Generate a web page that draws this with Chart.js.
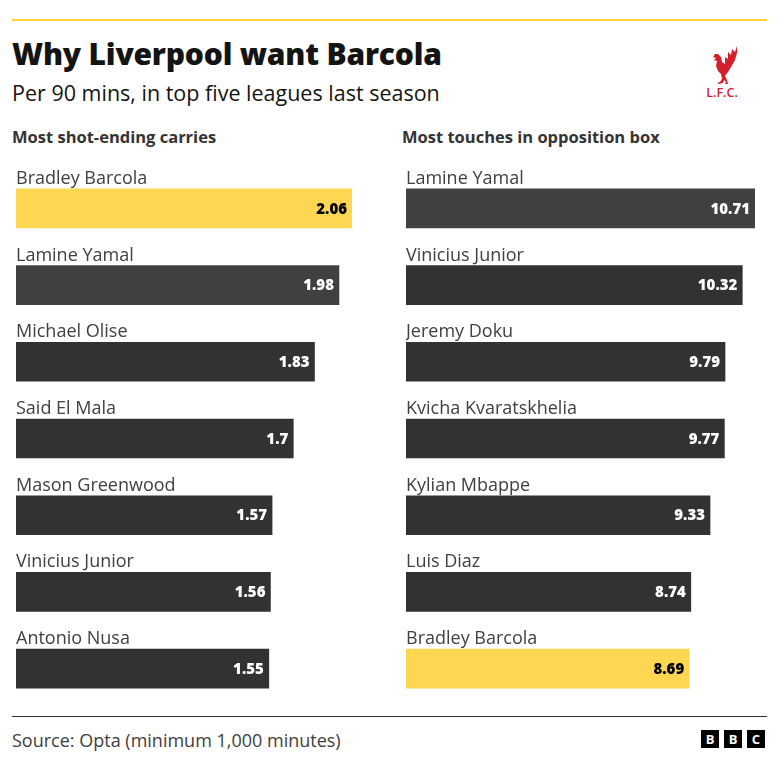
<!DOCTYPE html>
<html>
<head>
<meta charset="utf-8">
<script src="https://cdn.jsdelivr.net/npm/chart.js@4.4.1/dist/chart.umd.min.js"></script>
<style>
  html, body { margin:0; padding:0; background:#fff; }
  body { width:779px; height:766px; position:relative; overflow:hidden; font-family: "Open Sans", Roboto, sans-serif; }
  .topline { position:absolute; left:12px; top:19px; width:755px; height:2px; background:#fdd32f; }
  .title { position:absolute; left:12px; top:34px; font-size:30px; line-height:40px; font-weight:800; color:#141414; white-space:nowrap; letter-spacing:-0.2px; }
  .subtitle { position:absolute; left:12px; top:79px; font-size:21.5px; line-height:28px; color:#141414; white-space:nowrap; }
  .head { position:absolute; top:125px; font-size:16.5px; line-height:24px; font-weight:700; color:#333; white-space:nowrap; }
  .wrap { position:absolute; top:170px; height:537px; }
  .rule { position:absolute; left:12px; top:716px; width:755px; height:1px; background:#333; }
  .source { position:absolute; left:12px; top:728px; font-size:18px; line-height:24px; color:#404040; white-space:nowrap; }
  .bbc { position:absolute; top:730px; width:18px; height:18px; background:#000; color:#fff; font-size:13px; font-weight:700; text-align:center; line-height:18px; }
  .lfc { position:absolute; left:704px; top:44px; width:38px; height:56px; }
</style>
</head>
<body>
<div class="topline"></div>
<div class="title">Why Liverpool want Barcola</div>
<div class="subtitle">Per 90 mins, in top five leagues last season</div>
<svg class="lfc" viewBox="0 0 38 56">
  <path fill="#d4202a" d="M33 2 L31 8 L28 5 L27 11 L24 8 L24 15 L21 13 L21 20 L18 18 L17 13 L14 10 L11 10 L9 13 L12 14 L10 16 L13 17 L12 22 L14 27 L17 30 L18 35 L16 38 L13 39 L15 40 L19 39 L20 36 L22 38 L21 40 L24 40 L23 36 L21 32 L24 28 L27 23 L31 16 L33 9 Z"/>
  <text x="18" y="53" text-anchor="middle" font-size="12.5" font-weight="600" font-family="Open Sans" fill="#d4202a">L.F.C.</text>
</svg>
<div class="head" style="left:12px">Most shot-ending carries</div>
<div class="head" style="left:402px">Most touches in opposition box</div>
<div class="wrap" style="left:16px;width:336px"><canvas id="c1"></canvas></div>
<div class="wrap" style="left:406px;width:349px"><canvas id="c2"></canvas></div>
<div class="rule"></div>
<div class="source">Source: Opta (minimum 1,000 minutes)</div>
<div class="bbc" style="left:701px">B</div>
<div class="bbc" style="left:724px">B</div>
<div class="bbc" style="left:747px">C</div>
<script>
const carryPlayers = ["Bradley Barcola","Lamine Yamal","Michael Olise","Said El Mala","Mason Greenwood","Vinicius Junior","Antonio Nusa"];
const carryValues = [2.06, 1.98, 1.83, 1.7, 1.57, 1.56, 1.55];
const carryLabels = ["2.06","1.98","1.83","1.7","1.57","1.56","1.55"];
const touchPlayers = ["Lamine Yamal","Vinicius Junior","Jeremy Doku","Kvicha Kvaratskhelia","Kylian Mbappe","Luis Diaz","Bradley Barcola"];
const touchValues = [10.71, 10.32, 9.79, 9.77, 9.33, 8.74, 8.69];
const touchLabels = ["10.71","10.32","9.79","9.77","9.33","8.74","8.69"];

const YELLOW = "#fdd752", DARK = "#323232", YAMAL = "#404040";
function colorFor(name){ return name === "Bradley Barcola" ? YELLOW : (name === "Lamine Yamal" ? YAMAL : DARK); }

const labelPlugin = {
  id: "barLabels",
  afterDatasetsDraw(chart) {
    const ctx = chart.ctx;
    const meta = chart.getDatasetMeta(0);
    const names = chart.data.labels;
    const texts = chart.options.plugins.barLabels.texts;
    meta.data.forEach((bar, i) => {
      const top = bar.y - bar.height / 2;
      ctx.save();
      ctx.font = "18px 'Open Sans'";
      ctx.fillStyle = "#404040";
      ctx.textAlign = "left";
      ctx.textBaseline = "alphabetic";
      ctx.fillText(names[i], chart.chartArea.left, top - 5);
      ctx.font = "800 15px 'Open Sans'";
      ctx.fillStyle = names[i] === "Bradley Barcola" ? "#000" : "#fff";
      ctx.textAlign = "right";
      ctx.textBaseline = "middle";
      ctx.fillText(texts[i], bar.x - 5, bar.y + 1);
      ctx.restore();
    });
  }
};

function makeChart(id, names, values, texts) {
  new Chart(document.getElementById(id), {
    type: "bar",
    data: { labels: names, datasets: [{ data: values, backgroundColor: names.map(colorFor), barThickness: 39, borderWidth: 0 }] },
    options: {
      indexAxis: "y",
      responsive: true,
      maintainAspectRatio: false,
      animation: false,
      layout: { padding: 0 },
      scales: {
        x: { display: false, min: 0, max: Math.max(...values) },
        y: { display: false }
      },
      plugins: { legend: { display: false }, tooltip: { enabled: false }, barLabels: { texts: texts } }
    },
    plugins: [labelPlugin]
  });
}
makeChart("c1", carryPlayers, carryValues, carryLabels);
makeChart("c2", touchPlayers, touchValues, touchLabels);
</script>
</body>
</html>
